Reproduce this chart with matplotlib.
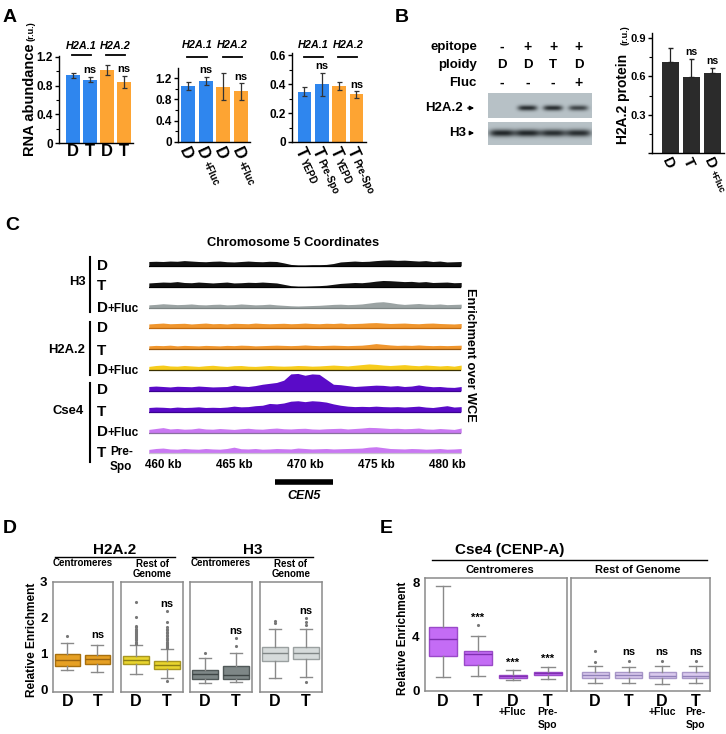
import numpy as np
import matplotlib
matplotlib.use('Agg')
import matplotlib.pyplot as plt
import matplotlib.transforms as mtransforms
from matplotlib.patches import FancyArrowPatch
from matplotlib.lines import Line2D

plt.rcParams['font.family'] = ['Liberation Sans', 'DejaVu Sans']
plt.rcParams['font.weight'] = 'bold'
plt.rcParams['axes.linewidth'] = 1.0

# ---------------- DATA ----------------
# Panel A
a_genes = ['H2A.1', 'H2A.2']
a1_vals = [0.944, 0.884, 1.014, 0.851]
a1_err = [0.035, 0.04, 0.07, 0.09]
a1_labels = ['D', 'T', 'D', 'T']
a2_vals = [1.055, 1.15, 1.04, 0.95]
a2_err = [0.08, 0.08, 0.25, 0.16]
a2_main = ['D', 'D', 'D', 'D']
a2_sub = ['', '+Fluc', '', '+Fluc']
a3_vals = [0.346, 0.397, 0.386, 0.328]
a3_err = [0.03, 0.08, 0.03, 0.023]
a3_main = ['T', 'T', 'T', 'T']
a3_sub = ['YEPD', 'Pre-Spo', 'YEPD', 'Pre-Spo']
a_ns_idx = [1, 3]

# Panel B
blot_epitope = ['-', '+', '+', '+']
blot_ploidy = ['D', 'D', 'T', 'D']
blot_fluc = ['-', '-', '-', '+']
h2a2_band = [0.0, 0.95, 0.95, 0.8]
h3_band = [1.0, 1.0, 0.95, 0.95]
b_vals = [0.71, 0.595, 0.625]
b_err = [0.11, 0.14, 0.04]
b_main = ['D', 'T', 'D']
b_sub = ['', '', '+Fluc']
b_ns_idx = [1, 2]

# Panel C  (enrichment tracks, 0.5 kb steps from 459 to 481 kb)
kb = np.arange(459.0, 481.01, 0.5)
h3_D = [1.0, 1.05, 1.0, 1.1, 1.05, 1.2, 1.1, 1.0, 0.95,
        1.05, 1.1, 0.95, 0.9, 1.0, 1.1, 1.0, 0.95, 1.05,
        1.0, 0.7, 0.35, 0.25, 0.25, 0.3, 0.3, 0.35, 0.55,
        0.9, 1.0, 1.1, 1.0, 1.05, 1.2, 1.3, 1.35, 1.25,
        1.3, 1.2, 1.1, 1.2, 1.0, 1.1, 0.9, 0.95, 1.0]
h3_T = [0.9, 1.0, 1.1, 1.05, 1.2, 1.0, 0.95, 1.1, 1.0,
        0.9, 1.0, 1.1, 0.9, 0.95, 1.05, 1.0, 1.1, 1.0,
        0.9, 0.6, 0.3, 0.2, 0.2, 0.25, 0.3, 0.4, 0.6,
        0.8, 0.9, 1.0, 0.95, 1.1, 1.3, 1.45, 1.4, 1.3,
        1.2, 1.25, 1.1, 1.2, 1.0, 1.05, 1.1, 0.95, 1.0]
h3_Fluc = [0.7, 0.8, 0.95, 0.85, 0.75, 0.8, 0.9, 0.75, 0.7,
           0.8, 0.85, 0.7, 0.75, 0.9, 0.8, 0.7, 0.75, 0.85,
           0.7, 0.6, 0.5, 0.45, 0.5, 0.55, 0.6, 0.7, 0.8,
           0.85, 0.75, 0.8, 0.9, 1.1, 1.3, 1.4, 1.2, 0.95,
           0.8, 0.9, 1.0, 0.85, 0.8, 0.9, 0.75, 0.8, 0.85]
h2a2_D = [0.9, 1.0, 1.1, 0.95, 1.0, 1.05, 0.9, 1.0, 1.1,
          0.95, 1.0, 0.9, 1.05, 1.0, 0.95, 1.1, 1.0, 0.95,
          1.0, 1.05, 0.95, 1.0, 1.1, 1.0, 0.95, 1.05, 1.0,
          1.1, 0.95, 1.0, 1.05, 1.15, 1.2, 1.1, 1.0, 1.05,
          1.1, 1.0, 0.95, 1.05, 1.1, 1.0, 0.95, 0.9, 1.0]
h2a2_T = [0.7, 0.8, 0.75, 0.85, 0.7, 0.8, 0.75, 0.7, 0.8,
          0.75, 0.7, 0.8, 0.75, 0.85, 0.8, 0.7, 0.75, 0.8,
          0.85, 0.8, 0.75, 0.8, 0.9, 0.8, 0.75, 0.8, 0.85,
          0.8, 0.75, 0.8, 0.85, 1.0, 1.2, 1.05, 0.9, 0.8,
          0.85, 0.8, 0.9, 0.8, 0.75, 0.8, 0.75, 0.8, 0.85]
h2a2_Fluc = [0.8, 1.0, 1.1, 0.9, 0.85, 1.0, 0.9, 0.8, 0.95,
             1.05, 0.9, 0.8, 0.95, 1.0, 0.85, 0.8, 0.9, 1.0,
             0.9, 0.85, 0.9, 1.0, 0.95, 0.85, 0.9, 1.0, 1.1,
             1.0, 0.9, 1.05, 1.2, 1.35, 1.25, 1.1, 1.0, 1.1,
             1.2, 1.05, 0.95, 1.1, 1.0, 0.9, 1.0, 0.85, 1.1]
cse4_D = [1.0, 1.1, 1.0, 0.9, 1.05, 1.0, 0.95, 1.1, 1.0,
          0.9, 0.95, 1.0, 1.3, 1.1, 1.0, 1.2, 1.5, 1.7,
          1.9, 2.4, 3.8, 3.9, 3.5, 3.8, 3.7, 2.6, 1.5,
          1.4, 1.2, 1.0, 1.1, 1.2, 1.3, 1.25, 1.1, 1.2,
          1.0, 1.1, 1.35, 1.1, 0.95, 1.0, 0.85, 0.8, 1.0]
cse4_T = [1.0, 1.1, 1.05, 0.95, 1.1, 1.0, 1.05, 1.15, 1.0,
          1.05, 1.0, 1.1, 1.3, 1.15, 1.2, 1.4, 1.5, 1.9,
          1.8, 2.0, 2.4, 2.5, 2.3, 2.5, 2.4, 2.2, 1.8,
          1.5, 1.3, 1.2, 1.25, 1.2, 1.3, 1.2, 1.15, 1.2,
          1.1, 1.2, 1.3, 1.1, 1.0, 1.2, 1.4, 1.1, 1.2]
cse4_Fluc = [0.8, 1.0, 1.2, 0.9, 1.0, 0.85, 0.9, 1.1, 0.9,
             0.85, 1.0, 0.9, 0.8, 0.95, 1.05, 0.9, 0.85, 1.0,
             1.1, 0.95, 0.9, 1.0, 1.05, 0.9, 0.85, 0.95, 1.0,
             1.05, 0.9, 1.0, 1.1, 1.25, 1.2, 1.1, 1.0, 1.05,
             0.95, 1.0, 1.1, 0.9, 0.85, 1.0, 0.9, 0.8, 1.1]
cse4_PreSpo = [0.8, 1.0, 1.1, 0.9, 0.85, 1.0, 0.9, 0.85, 1.0,
               0.9, 0.85, 1.0, 1.3, 0.95, 0.9, 1.0, 0.85, 0.9,
               1.0, 0.95, 0.9, 1.1, 1.0, 0.9, 0.95, 1.0, 0.9,
               0.95, 1.0, 1.05, 1.1, 1.3, 1.4, 1.2, 1.0, 0.95,
               0.9, 1.0, 0.95, 0.85, 0.9, 1.0, 0.85, 0.9, 1.0]
kb_ticks = [460, 465, 470, 475, 480]
cen5_span = [467.9, 472.0]

# Panel D  box stats [whislo, q1, med, q3, whishi]
d_h2a2_cen = [[0.55, 0.67, 0.83, 1.00, 1.31], [0.51, 0.72, 0.86, 0.97, 1.25]]
d_h2a2_cen_fl = [[1.50], []]
d_h2a2_rest = [[0.43, 0.72, 0.82, 0.94, 1.25], [0.32, 0.57, 0.69, 0.80, 1.13]]
d_h2a2_rest_fl = [[1.28, 1.31, 1.34, 1.37, 1.40, 1.43, 1.46, 1.49, 1.52, 1.55,
                   1.58, 1.61, 1.64, 1.67, 1.70, 1.74, 1.78, 2.01, 2.45],
                  [1.16, 1.19, 1.22, 1.25, 1.28, 1.31, 1.34, 1.37, 1.41, 1.45,
                   1.49, 1.53, 1.57, 1.61, 1.66, 1.70, 1.75, 1.89, 2.20, 0.26]]
d_h3_cen = [[0.20, 0.30, 0.43, 0.55, 0.88], [0.23, 0.30, 0.42, 0.65, 1.02]]
d_h3_cen_fl = [[1.03], [1.22, 1.45]]
d_h3_rest = [[0.32, 0.81, 1.02, 1.18, 1.69], [0.37, 0.85, 1.02, 1.18, 1.69]]
d_h3_rest_fl = [[1.85, 1.92], [1.80, 1.87, 2.00, 0.23]]
d_ns = [None, 1.52, None, 2.38, None, 1.63, None, 2.2]

# Panel E
e_cen = [[0.98, 2.57, 3.79, 4.65, 7.70], [1.05, 1.90, 2.69, 2.93, 3.99],
         [0.73, 0.93, 1.05, 1.15, 1.47], [0.86, 1.10, 1.25, 1.39, 1.71]]
e_cen_fl = [[], [4.84], [], []]
e_rest = [[0.54, 0.93, 1.10, 1.34, 1.83], [0.56, 0.93, 1.10, 1.34, 1.76],
          [0.46, 0.90, 1.05, 1.34, 1.80], [0.54, 0.92, 1.08, 1.34, 1.83]]
e_rest_fl = [[2.08, 2.93], [2.13], [2.20], [2.15]]
e_cen_sig = ['', '***', '***', '***']
e_cen_sig_y = [None, 5.38, 2.03, 2.32]
e_rest_sig = ['', 'ns', 'ns', 'ns']
e_rest_sig_y = [None, 2.81, 2.81, 2.81]
e_main = ['D', 'T', 'D', 'T']
e_sub = [[], [], ['+Fluc'], ['Pre-', 'Spo']]

# ---------------- FIGURE ----------------
W, H = 726, 734
fig = plt.figure(figsize=(W / 100, H / 100), dpi=100)


def axpx(x0, y0, x1, y1):
    return fig.add_axes([x0 / W, 1 - y1 / H, (x1 - x0) / W, (y1 - y0) / H])


def ftext(x, y, s, **kw):
    kw.setdefault('fontweight', 'bold')
    return fig.text(x / W, 1 - y / H, s, **kw)


def fline(x0, x1, y0, y1, **kw):
    fig.add_artist(Line2D([x0 / W, x1 / W], [1 - y0 / H, 1 - y1 / H], **kw))


def xpx(ax, xd):
    return ax.transData.transform((xd, 0))[0]


BLUE = '#2F86EE'
ORANGE = '#FDA433'


def style_bar_ax(ax, major, minor, ticklabels_fs=8.5, show_zero=True):
    for s in ['top', 'right']:
        ax.spines[s].set_visible(False)
    ax.set_yticks(major)
    labs = [('%g' % v if (v != 0 or show_zero) else '') for v in major]
    ax.set_yticklabels(labs, fontsize=ticklabels_fs, fontweight='bold')
    ax.set_yticks(minor, minor=True)
    ax.tick_params(axis='y', which='major', length=3, width=1, pad=1.5)
    ax.tick_params(axis='y', which='minor', length=2, width=0.8)
    ax.tick_params(axis='x', length=0)


def rot_labels(ax, mains, subs, fs_main, fs_sub, angle=-65, tx=1.0, ty=-2.0, gap=1.5):
    a = np.deg2rad(angle)
    d = np.array([np.cos(a), np.sin(a)])
    u = np.array([-np.sin(a), np.cos(a)])
    cap = 0.72 * fs_main
    for i, (m, s) in enumerate(zip(mains, subs)):
        b0 = np.array([tx, ty]) - cap * u
        ax.annotate(m, xy=(i, 0), xycoords=('data', 'axes fraction'), xytext=tuple(b0),
                    textcoords='offset points', rotation=angle, rotation_mode='anchor',
                    ha='left', va='baseline', fontsize=fs_main, fontweight='bold',
                    annotation_clip=False)
        if s:
            wm = (0.72 if m == 'D' else 0.61) * fs_main
            b1 = b0 + (wm + gap) * d
            ax.annotate(s, xy=(i, 0), xycoords=('data', 'axes fraction'), xytext=tuple(b1),
                        textcoords='offset points', rotation=angle, rotation_mode='anchor',
                        ha='left', va='baseline', fontsize=fs_sub, fontweight='bold',
                        annotation_clip=False)


def bar_panel(box, vals, err, ylim, xlim, width, major, minor, ns_idx, head_y, line_y):
    ax = axpx(*box)
    x = np.arange(len(vals))
    ax.bar(x, vals, width, color=[BLUE, BLUE, ORANGE, ORANGE], yerr=err,
           error_kw=dict(ecolor='#333333', elinewidth=0.9, capsize=1.8, capthick=0.9))
    ax.set_ylim(*ylim)
    ax.set_xlim(*xlim)
    style_bar_ax(ax, major, minor)
    for i in ns_idx:
        ax.text(i, vals[i] + err[i] + 0.018 * ylim[1], 'ns', ha='center', va='bottom',
                fontsize=8, fontweight='bold')
    for g, gene in enumerate(a_genes):
        c = 2 * g + 0.5
        cx = xpx(ax, c)
        ftext(cx, head_y, gene, ha='center', va='center', fontsize=7.8, style='italic')
        x0, x1 = xpx(ax, c - 0.55), xpx(ax, c + 0.55)
        fline(x0, x1, line_y, line_y, color='black', lw=1.3)
    return ax


# Panel letters
ftext(3, 22, 'A', fontsize=14, va='baseline')
ftext(395, 22, 'B', fontsize=14, va='baseline')
ftext(5, 230, 'C', fontsize=14, va='baseline')
ftext(3, 533, 'D', fontsize=14, va='baseline')
ftext(380, 533, 'E', fontsize=14, va='baseline')

# ---- Panel A ----
axA1 = bar_panel((59, 55.5, 133, 143), a1_vals, a1_err, (0, 1.22), (-0.82, 3.53), 0.82,
                 [0, 0.4, 0.8, 1.2], [0.2, 0.6, 1.0], a_ns_idx, 46, 55)
axA1.set_xticks(range(4))
axA1.set_xticklabels(a1_labels, fontsize=12, fontweight='bold')
axA1.tick_params(axis='x', pad=1)
axA2 = bar_panel((178, 68, 250, 142), a2_vals, a2_err, (0, 1.39), (-0.56, 3.5), 0.79,
                 [0, 0.4, 0.8, 1.2], [0.2, 0.6, 1.0], a_ns_idx, 45, 57)
axA2.set_xticks([])
rot_labels(axA2, a2_main, a2_sub, 12, 7)
axA3 = bar_panel((292, 53, 366, 142), a3_vals, a3_err, (0, 0.614), (-0.72, 3.55), 0.8,
                 [0, 0.2, 0.4, 0.6], [0.1, 0.3, 0.5], a_ns_idx, 45, 57)
axA3.set_xticks([])
rot_labels(axA3, a3_main, a3_sub, 12, 7)
ftext(30, 100, 'RNA abundance', rotation=90, ha='center', va='center', fontsize=10.5)
ftext(31.5, 31, '(r.u.)', rotation=90, ha='center', va='center', fontsize=6.5)

# ---- Panel B: blot ----
lane_px = [502 + 25.5 * i for i in range(4)]
ftext(477, 47, 'epitope', ha='right', va='center', fontsize=9.5)
ftext(477, 65, 'ploidy', ha='right', va='center', fontsize=9.5)
ftext(477, 83, 'Fluc', ha='right', va='center', fontsize=9.5)
for i in range(4):
    ftext(lane_px[i], 47, blot_epitope[i], ha='center', va='center', fontsize=10)
    ftext(lane_px[i], 65, blot_ploidy[i], ha='center', va='center', fontsize=9.5)
    ftext(lane_px[i], 83, blot_fluc[i], ha='center', va='center', fontsize=10)


def blot(box, bands, yc, sy, sx):
    ax = axpx(*box)
    xs = np.linspace(-0.55, 3.53, 320)
    ys = np.linspace(0, 1, 80)
    X, Y = np.meshgrid(xs, ys)
    I = np.zeros_like(X)
    for i, a in enumerate(bands):
        I += a * np.exp(-((X - i) / sx) ** 4) * np.exp(-((Y - yc) / sy) ** 2)
    I = np.clip(I, 0, 1)
    bg = np.array([0.72, 0.76, 0.78])
    dk = np.array([0.13, 0.15, 0.16])
    img = bg * (1 - I[..., None]) + dk * I[..., None]
    ax.imshow(img, extent=(-0.55, 3.53, 1, 0), aspect='auto', interpolation='bilinear')
    ax.set_xlim(-0.55, 3.53)
    ax.set_ylim(1, 0)
    ax.axis('off')
    return ax


blot((488, 93, 592, 118), h2a2_band, 0.6, 0.11, 0.38)
blot((488, 122, 592, 145), h3_band, 0.48, 0.16, 0.5)
ftext(463, 108, 'H2A.2', ha='right', va='center', fontsize=9.5)
ftext(466, 133, 'H3', ha='right', va='center', fontsize=9.5)
for yy, x0 in [(108, 465), (133, 468)]:
    fig.add_artist(FancyArrowPatch((x0 / W, 1 - yy / H), (477 / W, 1 - yy / H),
                                   transform=fig.transFigure, arrowstyle='-|>',
                                   mutation_scale=6, lw=1, color='black'))

# ---- Panel B: bars ----
axB = axpx(652, 33, 724, 153)
axB.bar(range(3), b_vals, 0.85, color='#2B2B2B',
        yerr=[[0, 0, 0], b_err], error_kw=dict(ecolor='#222222', elinewidth=0.9, capsize=1.8))
axB.set_ylim(0, 0.94)
axB.set_xlim(-0.88, 2.55)
style_bar_ax(axB, [0, 0.3, 0.6, 0.9], [0.15, 0.45, 0.75], ticklabels_fs=8, show_zero=False)
axB.set_xticks([])
for i in b_ns_idx:
    axB.text(i, b_vals[i] + b_err[i] + 0.02, 'ns', ha='center', va='bottom', fontsize=7.5,
             fontweight='bold')
rot_labels(axB, b_main, b_sub, 11, 6.5)
ftext(623, 99, 'H2A.2 protein', rotation=90, ha='center', va='center', fontsize=10)
ftext(624.5, 35, '(r.u.)', rotation=90, ha='center', va='center', fontsize=6.5)

# ---- Panel C ----
axC = axpx(148.8, 240, 461.2, 505)
axC.set_xlim(459, 481)
axC.set_ylim(505, 240)
axC.axis('off')
scale = 4.5
tracks = [
    (h3_D, '#111111', '#000000', 266),
    (h3_T, '#111111', '#000000', 287),
    (h3_Fluc, '#9BA3A3', '#7c8484', 308),
    (h2a2_D, '#F0962E', '#C06A10', 328),
    (h2a2_T, '#F0962E', '#9a5a10', 349),
    (h2a2_Fluc, '#F7CC1C', '#3a3000', 370),
    (cse4_D, '#5A0BC8', '#3A0090', 391),
    (cse4_T, '#5A0BC8', '#3A0090', 412),
    (cse4_Fluc, '#C978F2', '#8a70a0', 433),
    (cse4_PreSpo, '#C978F2', '#c8c0d0', 453),
]
for vals, fc, ec, base in tracks:
    v = np.asarray(vals)
    axC.fill_between(kb, base, base - scale * v, color=fc, lw=0)
    axC.plot([kb[0], kb[-1]], [base, base], color=ec, lw=0.9)
for t in kb_ticks:
    axC.text(t, 465, '%d kb' % t, ha='center', va='center', fontsize=8.5, fontweight='bold')
axC.plot(cen5_span, [482, 482], color='black', lw=4, solid_capstyle='butt', clip_on=False)
axC.text(np.mean(cen5_span), 496, 'CEN5', ha='center', va='center', fontsize=9,
         fontweight='bold', style='italic')
ftext(293, 243, 'Chromosome 5 Coordinates', ha='center', va='center', fontsize=9.3)
ftext(470, 355, 'Enrichment over WCE', rotation=-90, ha='center', va='center', fontsize=9.2)

row_labels = [
    (265, 'D', ''), (285, 'T', ''), (307, 'D', '+Fluc'),
    (327, 'D', ''), (349, 'T', ''), (369, 'D', '+Fluc'),
    (389, 'D', ''), (410, 'T', ''), (431, 'D', '+Fluc'),
]
for yc, m, s in row_labels:
    ftext(97, yc + 5.5, m, ha='left', va='baseline', fontsize=11)
    if s:
        ftext(107.5, yc + 5.5, s, ha='left', va='baseline', fontsize=8.5)
ftext(97, 457, 'T', ha='left', va='baseline', fontsize=11)
ftext(110, 452, 'Pre-', ha='left', va='center', fontsize=8.5)
ftext(110, 467, 'Spo', ha='left', va='center', fontsize=8.5)
ftext(77, 282, 'H3', ha='center', va='center', fontsize=9.4)
ftext(66.5, 350, 'H2A.2', ha='center', va='center', fontsize=9.4)
ftext(68, 411, 'Cse4', ha='center', va='center', fontsize=9.4)
for y0, y1 in [(257, 312), (322, 375), (383, 462)]:
    fline(90, 90, y0, y1, color='black', lw=1.5)

# ---- Panel D ----
d_boxes_px = [(53, 113), (121, 183), (190, 252), (260, 322)]
d_stats = [d_h2a2_cen, d_h2a2_rest, d_h3_cen, d_h3_rest]
d_fl = [d_h2a2_cen_fl, d_h2a2_rest_fl, d_h3_cen_fl, d_h3_rest_fl]
d_colors = [('#E6A024', '#A8700F', '#9A6410'), ('#E8D42E', '#A89620', '#8C7E14'),
            ('#7E8787', '#505858', '#3E4545'), ('#D6DBDB', '#9AA0A0', '#808686')]
d_sub = ['Centromeres', 'Rest of\nGenome', 'Centromeres', 'Rest of\nGenome']


def draw_box(ax, stats5, fls, fc, ec, mc, width, capw):
    st = [dict(whislo=s[0], q1=s[1], med=s[2], q3=s[3], whishi=s[4], fliers=f)
          for s, f in zip(stats5, fls)]
    ax.bxp(st, positions=list(range(len(st))), widths=width, patch_artist=True,
           showfliers=True, capwidths=capw,
           boxprops=dict(facecolor=fc, edgecolor=ec, lw=1),
           medianprops=dict(color=mc, lw=1),
           whiskerprops=dict(color='#8a8a8a', lw=1),
           capprops=dict(color='#8a8a8a', lw=1),
           flierprops=dict(marker='.', ms=2.5, mfc='#777777', mec='#777777'))
    for s in ax.spines.values():
        s.set_color('#8a8a8a')
        s.set_linewidth(1.1)


for k in range(4):
    x0, x1 = d_boxes_px[k]
    ax = axpx(x0, 581.7, x1, 691.7)
    fc, ec, mc = d_colors[k]
    draw_box(ax, d_stats[k], d_fl[k], fc, ec, mc, 0.83, 0.4)
    ax.set_ylim(-0.05, 3.0)
    ax.set_xlim(-0.48, 1.52)
    ax.set_xticks([])
    if k == 0:
        ax.set_yticks([0, 1, 2, 3])
        ax.set_yticklabels(['0', '1', '2', '3'], fontsize=9.5, fontweight='bold')
        ax.tick_params(axis='y', length=0, pad=4)
    else:
        ax.set_yticks([])
    for j, lab in enumerate(['D', 'T']):
        ftext(xpx(ax, j), 701, lab, ha='center', va='center', fontsize=11.5)
        nsv = d_ns[2 * k + j]
        if nsv is not None:
            ax.text(j, nsv, 'ns', ha='center', va='center', fontsize=8, fontweight='bold')
    if '\n' in d_sub[k]:
        ftext((x0 + x1) / 2, 569, d_sub[k], ha='center', va='center', fontsize=7,
              linespacing=1.05)
    else:
        ftext((x0 + x1) / 2, 563, d_sub[k], ha='center', va='center', fontsize=7)
ftext(115, 550, 'H2A.2', ha='center', va='center', fontsize=11)
fline(55, 175, 557, 557, color='black', lw=1)
ftext(253, 550, 'H3', ha='center', va='center', fontsize=11)
fline(192, 313, 557, 557, color='black', lw=1)
ftext(32, 640, 'Relative Enrichment', rotation=90, ha='center', va='center', fontsize=8.6)

# ---- Panel E ----
e_axes = [((425, 567), (-0.5, 3.55), e_cen, e_cen_fl, ('#C46CF5', '#9A4AC8', '#7F2FB0'),
           e_cen_sig, e_cen_sig_y),
          ((571, 710), (-0.72, 3.43), e_rest, e_rest_fl, ('#DACAEE', '#A897C8', '#9080B8'),
           e_rest_sig, e_rest_sig_y)]
for n, (xs, xl, stt, fl, cols, sig, sigy) in enumerate(e_axes):
    ax = axpx(xs[0], 578, xs[1], 691)
    draw_box(ax, stt, fl, cols[0], cols[1], cols[2], 0.8, 0.4)
    ax.set_ylim(-0.05, 8.3)
    ax.set_xlim(*xl)
    ax.set_xticks([])
    if n == 0:
        ax.set_yticks([0, 4, 8])
        ax.set_yticklabels(['0', '4', '8'], fontsize=9.5, fontweight='bold')
        ax.tick_params(axis='y', length=0, pad=4)
    else:
        ax.set_yticks([])
    for j in range(4):
        if sig[j]:
            ax.text(j, sigy[j], sig[j], ha='center', va='center', fontsize=8, fontweight='bold')
        xj = xpx(ax, j)
        ftext(xj, 701, e_main[j], ha='center', va='center', fontsize=11.5)
        for q, sline in enumerate(e_sub[j]):
            ftext(xj, 712 + 13 * q, sline, ha='center', va='center', fontsize=7.5)
ftext(510, 550, 'Cse4 (CENP-A)', ha='center', va='center', fontsize=11)
fline(432, 707, 560, 560, color='black', lw=1)
ftext(500, 570, 'Centromeres', ha='center', va='center', fontsize=8)
ftext(638, 570, 'Rest of Genome', ha='center', va='center', fontsize=8)
ftext(403, 638, 'Relative Enrichment', rotation=90, ha='center', va='center', fontsize=8.5)

fig.savefig('out.png', dpi=100)
